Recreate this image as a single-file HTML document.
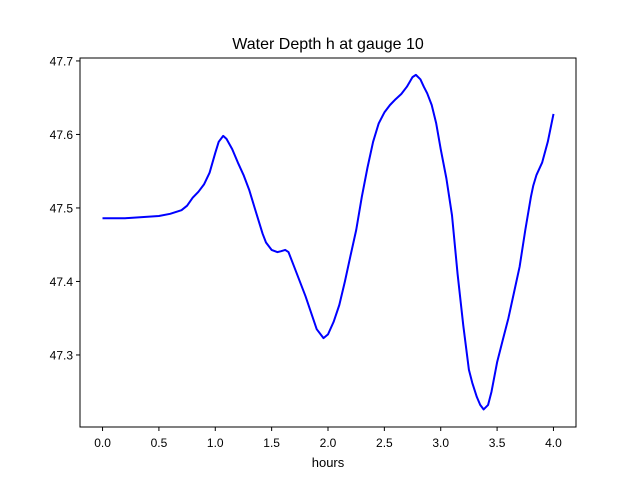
<!DOCTYPE html>
<html><head><meta charset="utf-8"><style>
body{margin:0;background:#fff;font-family:"Liberation Sans","DejaVu Sans",sans-serif}
</style></head><body>
<svg id="chart" width="640" height="480" xmlns="http://www.w3.org/2000/svg">
<rect width="640" height="480" fill="#fff"/>
<text x="328" y="49" text-anchor="middle" font-size="16">Water Depth h at gauge 10</text>
<text x="328" y="467" text-anchor="middle" font-size="13">hours</text>
<g id="ticks"></g>
<path id="line" fill="none" stroke="#0000ff" stroke-width="2" stroke-linejoin="round"/>
<rect x="80" y="58" width="496" height="369" fill="none" stroke="#000" stroke-width="1"/>
</svg>
<script>
const times=[0,0.2,0.5,0.6,0.7,0.75,0.8,0.85,0.9,0.95,1.0,1.03,1.07,1.1,1.15,1.2,1.25,1.3,1.35,1.42,1.45,1.5,1.55,1.58,1.62,1.65,1.7,1.8,1.9,1.96,2.0,2.05,2.1,2.15,2.2,2.25,2.3,2.35,2.4,2.45,2.5,2.55,2.6,2.65,2.7,2.75,2.78,2.82,2.85,2.88,2.92,2.96,3.0,3.05,3.1,3.15,3.2,3.25,3.28,3.32,3.35,3.38,3.42,3.45,3.5,3.55,3.6,3.65,3.7,3.75,3.8,3.82,3.85,3.9,3.95,4.0];
const depth=[47.486,47.486,47.489,47.492,47.497,47.503,47.514,47.522,47.532,47.548,47.575,47.59,47.598,47.594,47.58,47.562,47.545,47.525,47.50,47.465,47.453,47.443,47.44,47.441,47.443,47.44,47.42,47.38,47.335,47.323,47.328,47.345,47.368,47.40,47.435,47.47,47.515,47.555,47.59,47.615,47.63,47.64,47.648,47.655,47.665,47.678,47.681,47.675,47.665,47.656,47.64,47.615,47.58,47.54,47.49,47.41,47.34,47.28,47.262,47.243,47.232,47.226,47.232,47.25,47.29,47.32,47.35,47.385,47.42,47.47,47.515,47.53,47.545,47.562,47.59,47.628];
const xTicks=[0,0.5,1.0,1.5,2.0,2.5,3.0,3.5,4.0];
const yTicks=[47.3,47.4,47.5,47.6,47.7];
const X=v=>80+(v+0.2)/4.4*496;
const Y=v=>427-(v-47.202)/(47.704-47.202)*369;
const NS="http://www.w3.org/2000/svg";
const g=document.getElementById('ticks');
function mk(t,a){const e=document.createElementNS(NS,t);for(const k in a)e.setAttribute(k,a[k]);g.appendChild(e);return e;}
xTicks.forEach(v=>{
 const l=mk('line',{x1:X(v),x2:X(v),y1:427,y2:431,stroke:'#000'});
 
 
 const t=mk('text',{x:X(v),y:447,'text-anchor':'middle','font-size':'12'});
 t.textContent=v.toFixed(1);
 
 
});
yTicks.forEach(v=>{
 const l=mk('line',{x1:76,x2:80,y1:Y(v),y2:Y(v),stroke:'#000'});
 
 
 const t=mk('text',{x:73,y:Y(v)+4.5,'text-anchor':'end','font-size':'12'});
 t.textContent=v.toFixed(1);
 
 
});
document.getElementById('line').setAttribute('d',times.map((t,i)=>(i?'L':'M')+X(t).toFixed(1)+','+Y(depth[i]).toFixed(1)).join(''));
</script>
</body></html>
